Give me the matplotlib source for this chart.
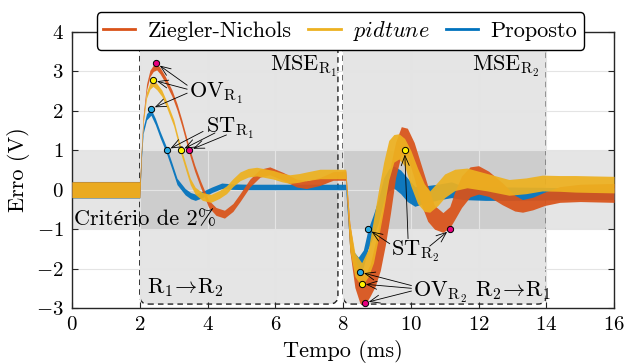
import numpy as np
import matplotlib.pyplot as plt
from matplotlib.patches import FancyBboxPatch
from matplotlib.lines import Line2D

plt.rcParams['font.family'] = ['cmr10', 'Liberation Serif']
plt.rcParams['mathtext.fontset'] = 'cm'
plt.rcParams['axes.formatter.use_mathtext'] = True
plt.rcParams['font.size'] = 16

# Ziegler-Nichols (center of the band and half width)
t_zn = [0.0, 1.0, 2.0, 2.05, 2.1, 2.2, 2.3, 2.4, 2.5, 2.6, 2.75, 2.95, 3.1, 3.24, 3.46, 3.62, 3.79,
        4.03, 4.25, 4.5, 4.75, 4.96, 5.25, 5.55, 5.84, 6.23, 6.63, 6.92, 7.32, 7.71, 8.08,
        8.2, 8.35, 8.5, 8.64, 8.8, 8.95, 9.1, 9.25, 9.4, 9.55, 9.72, 9.9, 10.1, 10.3, 10.5, 10.7,
        10.95, 11.15, 11.3, 11.5, 11.75, 12.0, 12.3, 12.7, 13.07, 13.3, 13.6, 13.95, 14.4, 15.0, 15.5, 16.0]
y_zn = [0.0, 0.0, 0.0, 1.0, 1.8, 2.6, 2.95, 3.08, 3.12, 3.02, 2.8, 2.45, 2.1, 1.7, 1.0, 0.55, 0.15,
        -0.35, -0.55, -0.62, -0.45, -0.2, 0.17, 0.42, 0.48, 0.34, 0.17, 0.13, 0.21, 0.35, 0.36,
        -1.2, -2.1, -2.5, -2.55, -2.3, -1.9, -1.4, -0.75, 0.0, 0.75, 1.25, 1.2, 0.75, 0.15, -0.35, -0.7,
        -0.83, -0.7, -0.4, -0.05, 0.2, 0.25, 0.15, -0.1, -0.34, -0.41, -0.35, -0.23, -0.12, -0.08, -0.08, -0.08]
hw_zn = [0.2, 0.2, 0.2, 0.1, 0.08, 0.08, 0.08, 0.08, 0.08, 0.08, 0.08, 0.08, 0.08, 0.08, 0.08, 0.08, 0.08,
         0.09, 0.1, 0.1, 0.1, 0.1, 0.1, 0.1, 0.1, 0.1, 0.1, 0.1, 0.1, 0.11, 0.12,
         0.35, 0.38, 0.38, 0.38, 0.4, 0.55, 0.65, 0.65, 0.6, 0.45, 0.35, 0.36, 0.45, 0.5, 0.45, 0.3,
         0.25, 0.27, 0.35, 0.4, 0.38, 0.36, 0.32, 0.28, 0.2, 0.16, 0.16, 0.17, 0.2, 0.22, 0.23, 0.24]

# pidtune
t_pid = [0.0, 1.0, 2.0, 2.05, 2.1, 2.2, 2.3, 2.39, 2.5, 2.65, 2.8, 3.0, 3.21, 3.35, 3.49, 3.64, 3.85,
         4.1, 4.35, 4.56, 4.75, 4.96, 5.2, 5.45, 5.7, 5.94, 6.2, 6.43, 6.7, 6.92, 7.32, 7.81, 8.08,
         8.2, 8.35, 8.55, 8.75, 8.9, 9.05, 9.2, 9.35, 9.5, 9.65, 9.82, 10.0, 10.2, 10.4, 10.56,
         10.8, 11.0, 11.3, 11.66, 12.26, 12.9, 13.4, 13.88, 14.4, 14.86, 15.4, 16.0]
y_pid = [0.0, 0.0, 0.0, 1.0, 1.75, 2.4, 2.63, 2.7, 2.62, 2.45, 2.15, 1.7, 1.0, 0.6, 0.21, -0.03, -0.17,
         -0.22, -0.12, 0.0, 0.18, 0.34, 0.43, 0.46, 0.42, 0.38, 0.31, 0.27, 0.3, 0.34, 0.4, 0.4, 0.4,
         -1.2, -1.9, -2.15, -1.85, -1.3, -0.6, 0.1, 0.75, 1.05, 1.1, 0.95, 0.55, 0.1, -0.2, -0.3,
         -0.1, 0.1, 0.25, 0.3, 0.19, 0.06, 0.1, 0.17, 0.16, 0.15, 0.14, 0.13]
hw_pid = [0.2, 0.2, 0.2, 0.1, 0.08, 0.08, 0.08, 0.08, 0.08, 0.08, 0.08, 0.08, 0.08, 0.08, 0.08, 0.09, 0.1,
          0.1, 0.1, 0.1, 0.1, 0.11, 0.11, 0.11, 0.11, 0.11, 0.11, 0.11, 0.11, 0.11, 0.12, 0.12, 0.12,
          0.35, 0.3, 0.3, 0.35, 0.55, 0.6, 0.6, 0.5, 0.35, 0.32, 0.35, 0.45, 0.45, 0.35, 0.27,
          0.3, 0.3, 0.27, 0.25, 0.22, 0.2, 0.2, 0.2, 0.2, 0.21, 0.21, 0.21]

# Proposto
t_prop = [0.0, 1.0, 2.0, 2.05, 2.1, 2.2, 2.33, 2.46, 2.6, 2.79, 2.95, 3.1, 3.34, 3.5, 3.64, 3.85,
          4.13, 4.42, 4.72, 5.2, 6.0, 7.0, 8.08,
          8.2, 8.3, 8.45, 8.6, 8.74, 8.9, 9.04, 9.2, 9.35, 9.5, 9.7, 9.9, 10.12, 10.42, 10.8,
          11.2, 11.55, 12.2, 13.0, 14.0, 15.0, 16.0]
y_prop = [0.0, 0.0, 0.0, 0.9, 1.5, 1.85, 1.97, 1.73, 1.4, 1.0, 0.6, 0.21, -0.05, -0.15, -0.19, -0.12,
          0.0, 0.1, 0.08, 0.07, 0.07, 0.07, 0.07,
          -1.3, -1.75, -1.93, -1.75, -1.25, -0.9, -0.55, 0.0, 0.25, 0.32, 0.2, 0.0, -0.17, -0.12, -0.06,
          0.0, -0.08, -0.1, -0.1, -0.1, -0.1, -0.1]
hw_prop = [0.21, 0.21, 0.21, 0.1, 0.08, 0.08, 0.08, 0.08, 0.08, 0.08, 0.08, 0.08, 0.08, 0.08, 0.08, 0.08,
           0.07, 0.07, 0.07, 0.07, 0.07, 0.07, 0.07,
           0.2, 0.2, 0.22, 0.22, 0.25, 0.28, 0.3, 0.3, 0.28, 0.28, 0.3, 0.3, 0.25, 0.22, 0.2,
           0.2, 0.17, 0.17, 0.17, 0.16, 0.15, 0.15]

# marked points (Ziegler-Nichols, pidtune, Proposto)
ov1_t, ov1_y = [2.49, 2.39, 2.33], [3.21, 2.78, 2.05]
st1_t, st1_y = [3.46, 3.21, 2.80], [1.0, 1.0, 1.0]
ov2_t, ov2_y = [8.64, 8.55, 8.50], [-2.87, -2.39, -2.09]
st2_t, st2_y = [11.17, 9.82, 8.74], [-1.0, 1.0, -1.0]

labels = ['Ziegler-Nichols', r'$\mathit{pidtune}$', 'Proposto']
colors = ['#D95319', '#EDB120', '#0072BD']
mcolors = ['#e6007e', '#fff200', '#29abe2']

fig = plt.figure(figsize=(6.24, 3.64), dpi=100)
ax = fig.add_axes([0.1154, 0.1538, 0.8686, 0.7582])
ax.set_xlim(0, 16)
ax.set_ylim(-3, 4)

# 2% band and MSE windows
ax.axhspan(-1, 1, color=(0, 0, 0, 0.1), lw=0, zorder=1)
asp = 33.9 / 39.5
for x0, x1 in [(2.0, 7.85), (8.0, 14.0)]:
    box = FancyBboxPatch((x0, -2.9), x1 - x0, 7.6,
                         boxstyle='round,pad=0,rounding_size=0.25', mutation_aspect=asp,
                         facecolor=(0, 0, 0, 0.1), edgecolor='#222222', lw=1.0,
                         linestyle=(0, (4, 3)), zorder=1)
    ax.add_patch(box)

series = [(t_prop, y_prop, hw_prop, colors[2]),
          (t_zn, y_zn, hw_zn, colors[0]),
          (t_pid, y_pid, hw_pid, colors[1])]
for t, y, hw, c in series:
    t, y, hw = np.array(t), np.array(y), np.array(hw)
    ax.fill_between(t, y - hw, y + hw, color=c, alpha=0.93, lw=0, zorder=3)

for pts in [(ov1_t, ov1_y), (st1_t, st1_y), (ov2_t, ov2_y), (st2_t, st2_y)]:
    for i in range(3):
        ax.plot(pts[0][i], pts[1][i], 'o', mfc=mcolors[i], mec='k', ms=4.5, mew=0.7, zorder=6)

arw = dict(arrowstyle='->,head_length=0.45,head_width=0.18', lw=0.6, color='k',
           shrinkA=0, shrinkB=3)
# OV R1
ax.text(3.45, 2.33, r'OV$_{\mathrm{R}_1}$', zorder=7)
for i, s in enumerate([2.65, 2.55, 2.45]):
    ax.annotate('', xy=(ov1_t[i], ov1_y[i]), xytext=(3.4, s), arrowprops=arw, zorder=7)
# ST R1
ax.text(3.97, 1.44, r'ST$_{\mathrm{R}_1}$', zorder=7)
for i, (sx, sy) in enumerate([(4.56, 1.39), (4.22, 1.44), (3.87, 1.48)]):
    ax.annotate('', xy=(st1_t[i], st1_y[i]), xytext=(sx, sy), arrowprops=arw, zorder=7)
# OV R2
ax.text(10.06, -2.70, r'OV$_{\mathrm{R}_2}$', zorder=7)
for i, s in enumerate([-2.57, -2.5, -2.43]):
    ax.annotate('', xy=(ov2_t[i], ov2_y[i]), xytext=(10.02, s), arrowprops=arw, zorder=7)
# ST R2
ax.text(9.43, -1.67, r'ST$_{\mathrm{R}_2}$', zorder=7)
for i, (sx, sy) in enumerate([(10.56, -1.43), (9.92, -1.24), (9.38, -1.37)]):
    ax.annotate('', xy=(st2_t[i], st2_y[i]), xytext=(sx, sy), arrowprops=arw, zorder=7)

ax.text(7.85, 3.01, r'MSE$_{\mathrm{R}_1}$', ha='right', zorder=7)
ax.text(13.8, 3.01, r'MSE$_{\mathrm{R}_2}$', ha='right', zorder=7)
ax.text(2.2, -2.63, r'R$_1\!\rightarrow\!$R$_2$', zorder=7)
ax.text(11.9, -2.70, r'R$_2\!\rightarrow\!$R$_1$', zorder=7)
ax.text(0.05, -0.91, 'Critério de 2%', zorder=7)

ax.set_xticks(np.arange(0, 17, 2))
ax.set_yticks(np.arange(-3, 5, 1))
ax.set_axisbelow('line')
ax.grid(True, color='#e4e4e4', lw=0.8)
ax.tick_params(direction='in', length=4, top=True, right=True, labelsize=15, pad=6,
               color='#262626')
for sp in ax.spines.values():
    sp.set_color('#262626')
    sp.set_linewidth(1.0)
ax.set_xlabel('Tempo (ms)', fontsize=16, labelpad=4)
ax.set_ylabel('Erro (V)', fontsize=16, labelpad=4)

handles = [Line2D([], [], color=c, lw=2) for c in colors]
leg = ax.legend(handles, labels, loc='center', bbox_to_anchor=(0.495, 1.004), ncol=3,
                fontsize=16, frameon=True, fancybox=True, framealpha=1, edgecolor='k',
                handlelength=1.45, handletextpad=0.55, columnspacing=0.75, borderpad=0.3,
                borderaxespad=0)
leg.get_frame().set_linewidth(1.0)
leg.set_zorder(10)

fig.savefig('out.png', dpi=100)
